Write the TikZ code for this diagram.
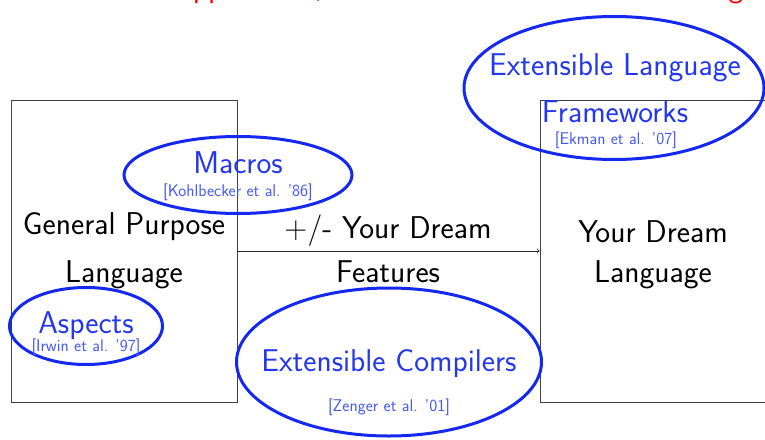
\documentclass[tikz,border=0pt]{standalone}
\usetikzlibrary{shapes.geometric}
\renewcommand{\familydefault}{\sfdefault}
\definecolor{ringblue}{RGB}{20,40,240}
\definecolor{labelblue}{RGB}{35,55,240}
\definecolor{citeblue}{RGB}{70,90,240}
\begin{document}
\begin{tikzpicture}[x=1pt,y=-1pt,
  panel/.style={draw=black!75, line width=0.8pt, inner sep=0pt,
    minimum width=226pt, minimum height=302pt},
  ring/.style={ellipse, draw=ringblue, line width=3pt, inner sep=0pt},
  bigtext/.style={font=\fontsize{31.5}{36}\selectfont, inner sep=0pt, anchor=base},
  bluetext/.style={bigtext, text=labelblue},
  citetext/.style={font=\fontsize{17}{20}\selectfont, text=citeblue, inner sep=0pt, anchor=base}]
\useasboundingbox (0,0) rectangle (765,439);
\clip (0,0) rectangle (765,439);

% slide heading, mostly above the visible area
\node[anchor=base west, text=red, font=\fontsize{31.5}{36}\selectfont, inner sep=0pt]
  (heading) at (173,-2) {\llap{Related }Approaches, from Libraries to Rewrite Tooling};

% the two languages and the step between them
\node[panel] (gpl) at (124,251) {};
\node[panel] (dream) at (653,251) {};
\draw[->, line width=0.8pt, black!85] (gpl.east) -- (dream.west);

\node[bigtext] (gpl1) at (124,234) {General Purpose};
\node[bigtext] (gpl2) at (124,282) {Language};
\node[bigtext] (step1) at (388,238) {+/- Your Dream};
\node[bigtext] (step2) at (388,282) {Features};
\node[bigtext] (dream1) at (653,242) {Your Dream};
\node[bigtext] (dream2) at (653,282) {Language};

% approaches
\node[ring, minimum width=228pt, minimum height=77pt] (macros) at (238,175) {};
\node[bluetext] (macrosT) at (238,173) {Macros};
\node[citetext] (macrosC) at (238,196) {[Kohlbecker et al. '86]};

\node[ring, minimum width=153pt, minimum height=77pt] (aspects) at (86,326) {};
\node[bluetext] (aspectsT) at (86,333) {Aspects};
\node[citetext] (aspectsC) at (86,351) {[Irwin et al. '97]};

\node[ring, minimum width=305pt, minimum height=148pt] (compilers) at (389,362) {};
\node[bluetext] (compilersT) at (389,371) {Extensible Compilers};
\node[citetext] (compilersC) at (389,411) {[Zenger et al. '01]};

\node[ring, minimum width=300pt, minimum height=143pt] (frameworks) at (614,88) {};
\node[bluetext] (frameworksT1) at (615,75) {Extensible Language};
\node[bluetext] (frameworksT2) at (615,122) {Frameworks};
\node[citetext] (frameworksC) at (616,144) {[Ekman et al. '07]};
\end{tikzpicture}
\end{document}
